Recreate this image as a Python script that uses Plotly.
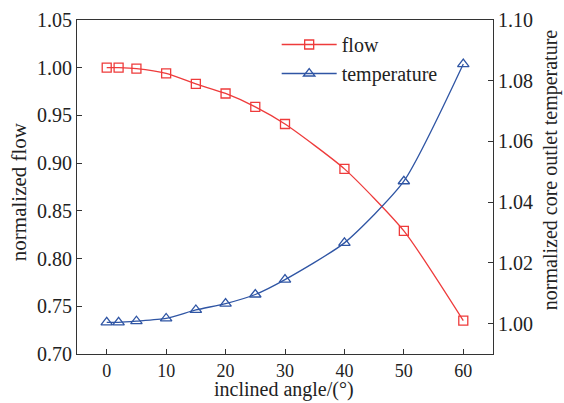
import plotly.graph_objects as go

angles = [0, 2, 5, 10, 15, 20, 25, 30, 40, 50, 60]
flow = [1.000, 1.000, 0.999, 0.994, 0.983, 0.973, 0.959, 0.941, 0.894, 0.829, 0.735]
temperature = [1.0004, 1.0004, 1.0008, 1.0017, 1.0045, 1.0066, 1.0096, 1.0145, 1.0266, 1.0469, 1.0855]

red = "#EE3B3B"
blue = "#2F55A4"
font = "Liberation Serif, Times New Roman, serif"

fig = go.Figure()
fig.add_trace(go.Scatter(
    x=angles, y=flow, name="flow", mode="lines+markers",
    line=dict(color=red, width=1.3, shape="spline", smoothing=0.6),
    marker=dict(symbol="square-open", size=9, color=red, line=dict(width=1.3)),
))
fig.add_trace(go.Scatter(
    x=angles, y=temperature, name="temperature", mode="lines+markers", yaxis="y2",
    line=dict(color=blue, width=1.3, shape="spline", smoothing=0.6),
    marker=dict(symbol="triangle-up-open", size=10, color=blue, line=dict(width=1.3)),
))

axis_common = dict(
    showgrid=False, zeroline=False, showline=True, linecolor="#333", linewidth=1.2,
    ticks="inside", ticklen=5, tickcolor="#333", tickwidth=1.2,
    tickfont=dict(family=font, size=20, color="#222"), automargin=False,
)
x_axis_style = dict(axis_common, tickfont=dict(family=font, size=18, color="#222"))

fig.update_layout(
    width=564, height=403,
    margin=dict(l=77, r=71, t=20, b=49),
    paper_bgcolor="white", plot_bgcolor="white",
    font=dict(family=font, color="#222"),
    xaxis=dict(range=[-5, 65], tickvals=[0, 10, 20, 30, 40, 50, 60], mirror=True,
               **x_axis_style),
    yaxis=dict(range=[0.70, 1.05], tickvals=[0.70, 0.75, 0.80, 0.85, 0.90, 0.95, 1.00, 1.05],
               tickformat=".2f", **axis_common),
    yaxis2=dict(range=[0.99, 1.10], tickvals=[1.00, 1.02, 1.04, 1.06, 1.08, 1.10],
                tickformat=".2f", overlaying="y", side="right", **axis_common),
    legend=dict(x=0.48, y=0.985, xanchor="left", yanchor="top", bgcolor="rgba(0,0,0,0)",
                font=dict(family=font, size=20), itemwidth=55, tracegroupgap=0),
    showlegend=True,
    annotations=[
        dict(text="inclined angle/(°)", xref="paper", yref="paper", x=0.4976, y=-0.1467,
             xanchor="center", yanchor="bottom", showarrow=False,
             font=dict(family=font, size=20, color="#222")),
        dict(text="normalized flow", xref="paper", yref="paper", x=-0.139, y=0.485,
             xanchor="center", yanchor="middle", textangle=-90, showarrow=False,
             font=dict(family=font, size=21, color="#222")),
        dict(text="normalized core outlet temperature", xref="paper", yref="paper", x=1.14, y=0.551,
             xanchor="center", yanchor="middle", textangle=-90, showarrow=False,
             font=dict(family=font, size=20, color="#222")),
    ],
)

fig.write_html("out.html")
